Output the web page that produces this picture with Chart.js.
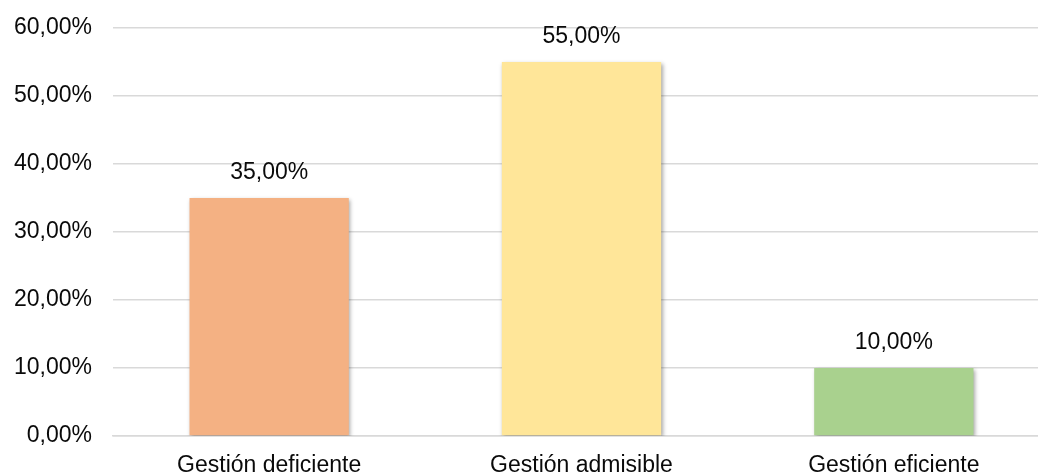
<!DOCTYPE html>
<html>
<head>
<meta charset="utf-8">
<script src="https://cdn.jsdelivr.net/npm/chart.js@4.4.1/dist/chart.umd.min.js"></script>
<style>
  html, body { margin: 0; padding: 0; background: #fff; overflow: hidden; }
  #wrap { position: relative; width: 1050px; height: 475px; }
</style>
</head>
<body>
<div id="wrap"><canvas id="chart"></canvas></div>
<script>
const categories = ['Gestión deficiente', 'Gestión admisible', 'Gestión eficiente'];
const percentages = [35, 55, 10];
const barColors = ['#F4B183', '#FFE699', '#A9D18E'];
const yTicks = [0, 10, 20, 30, 40, 50, 60];

const FONT = '"Liberation Sans", Arial, sans-serif';
const fmt = v => v.toFixed(2).replace('.', ',') + '%';

// Soft drop shadow behind the bars, then value labels on top
const barShadow = {
  id: 'barShadow',
  beforeDatasetsDraw(chart) {
    const ctx = chart.ctx;
    ctx.save();
    ctx.shadowColor = 'rgba(0,0,0,0.35)';
    ctx.shadowBlur = 4;
    ctx.shadowOffsetX = 1.5;
    ctx.shadowOffsetY = 1.5;
  },
  afterDatasetsDraw(chart) {
    const ctx = chart.ctx;
    ctx.restore();
    const meta = chart.getDatasetMeta(0);
    ctx.save();
    ctx.font = '23px ' + FONT;
    ctx.fillStyle = '#0a0a0a';
    ctx.textAlign = 'center';
    ctx.textBaseline = 'middle';
    meta.data.forEach((bar, i) => {
      ctx.fillText(fmt(percentages[i]), bar.x, bar.y - 25);
    });
    ctx.restore();
  }
};

new Chart(document.getElementById('chart'), {
  type: 'bar',
  data: {
    labels: categories,
    datasets: [{
      data: percentages,
      backgroundColor: barColors,
      borderWidth: 0,
      barPercentage: 0.51,
      categoryPercentage: 1.0
    }]
  },
  options: {
    responsive: true,
    maintainAspectRatio: false,
    animation: false,
    layout: { padding: { top: 28, right: 0, bottom: 0, left: 0 } },
    plugins: {
      legend: { display: false },
      tooltip: { enabled: false }
    },
    scales: {
      x: {
        grid: { display: false, drawTicks: false },
        border: { display: true, color: '#d9d9d9', width: 1.5 },
        ticks: {
          color: '#0a0a0a',
          font: { family: FONT, size: 23 },
          padding: 16,
          maxRotation: 0
        },
        afterFit(scale) {
          scale.height = 39;
          scale.paddingLeft = 0;
          scale.paddingRight = 0;
        }
      },
      y: {
        min: 0,
        max: 60,
        afterBuildTicks(scale) { scale.ticks = yTicks.map(v => ({ value: v })); },
        grid: { color: '#d9d9d9', lineWidth: 1.5, drawTicks: false },
        border: { display: false },
        ticks: {
          color: '#0a0a0a',
          font: { family: FONT, size: 23 },
          padding: 21,
          callback: v => fmt(v)
        },
        afterFit(scale) {
          scale.width = 113;
          scale.paddingTop = 0;
          scale.paddingBottom = 0;
        }
      }
    }
  },
  plugins: [barShadow]
});
</script>
</body>
</html>
